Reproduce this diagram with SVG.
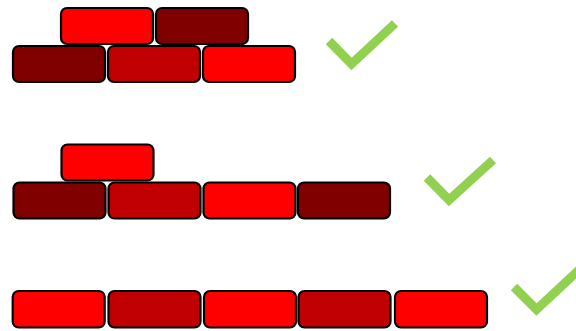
<svg xmlns="http://www.w3.org/2000/svg" width="576" height="331" viewBox="0 0 576 331">
  <style>
    .brick { stroke: #000000; stroke-width: 2.2; }
    .red { fill: #FF0000; }
    .mid { fill: #C00000; }
    .dark { fill: #800000; }
    .tick { fill: none; stroke: #92D050; stroke-width: 9; stroke-linejoin: miter; stroke-linecap: butt; }
  </style>
  <rect width="576" height="331" fill="#FFFFFF"/>

  <!-- Wall 1: three bricks with two on top -->
  <g id="wall1">
    <rect class="brick dark" x="13" y="46" width="92" height="36" rx="6"/>
    <rect class="brick mid" x="108" y="46" width="92" height="36" rx="6"/>
    <rect class="brick red" x="203" y="46" width="92" height="36" rx="6"/>
    <rect class="brick red" x="61" y="8" width="92" height="36" rx="6"/>
    <rect class="brick dark" x="156" y="8" width="92" height="36" rx="6"/>
  </g>

  <!-- Wall 2: four bricks with one on top -->
  <g id="wall2">
    <rect class="brick dark" x="13.5" y="182.5" width="92" height="36" rx="6"/>
    <rect class="brick mid" x="108.5" y="182.5" width="92" height="36" rx="6"/>
    <rect class="brick red" x="203.5" y="182.5" width="92" height="36" rx="6"/>
    <rect class="brick dark" x="298" y="182.5" width="92" height="36" rx="6"/>
    <rect class="brick red" x="61.5" y="144.5" width="92" height="36" rx="6"/>
  </g>

  <!-- Wall 3: single row of five bricks -->
  <g id="wall3">
    <rect class="brick red" x="12.7" y="291" width="92" height="36.5" rx="6"/>
    <rect class="brick mid" x="108.5" y="291" width="92" height="36.5" rx="6"/>
    <rect class="brick red" x="204" y="291" width="92" height="36.5" rx="6"/>
    <rect class="brick mid" x="298.5" y="291" width="92" height="36.5" rx="6"/>
    <rect class="brick red" x="395" y="291" width="92" height="36.5" rx="6"/>
  </g>

  <!-- Check marks -->
  <g id="checks">
    <path class="tick" d="M329,41 L351.5,64 L395,23.5"/>
    <path class="tick" d="M427,177.5 L449,200 L493,160"/>
    <path class="tick" d="M514,287 L536.5,309.5 L580,269"/>
  </g>
</svg>
